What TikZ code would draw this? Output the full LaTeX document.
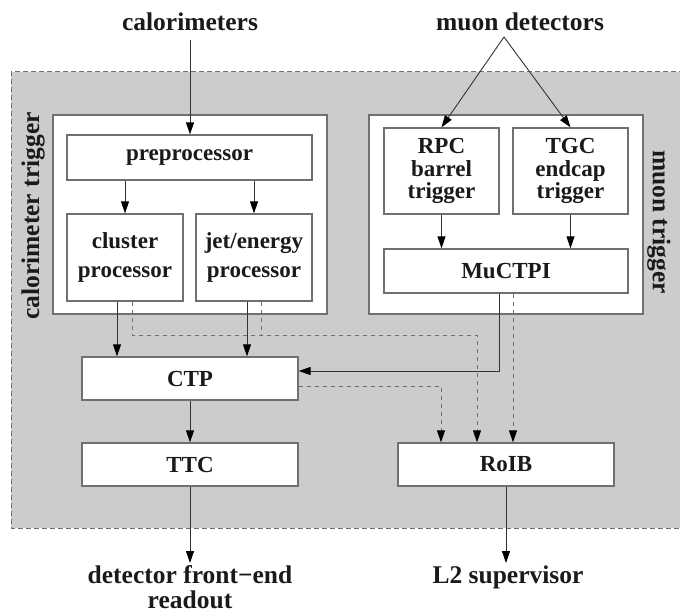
\documentclass[tikz,border=0pt]{standalone}
\usepackage{fontspec}
\setmainfont{Liberation Serif}
\usetikzlibrary{arrows.meta}
\definecolor{bgray}{HTML}{CCCCCC}
\definecolor{boxc}{HTML}{707070}
\definecolor{linec}{HTML}{333333}
\definecolor{dashc}{HTML}{707070}
\definecolor{txtc}{HTML}{1A1A1A}
\begin{document}
\begin{tikzpicture}[x=1pt,y=-1pt,
  box/.style={draw=boxc, line width=1.3pt, fill=white, inner sep=0pt, text=txtc,
    font=\fontsize{23}{23}\selectfont\bfseries, align=center},
  frame/.style={draw=boxc, line width=1.3pt, fill=white, inner sep=0pt},
  lab/.style={font=\fontsize{25.5}{26}\selectfont\bfseries, inner sep=0pt, align=center, text=txtc},
  arr/.style={draw=linec, line width=0.9pt, -{Triangle[length=12pt,width=8pt,color=black]}},
  darr/.style={arr, draw=dashc, line width=1pt, dash pattern=on 4.5pt off 3.5pt},
  dsh/.style={draw=dashc, line width=1pt, dash pattern=on 4.5pt off 3.5pt},
]
\useasboundingbox (0,0) rectangle (680,615);
\begin{scope}
\clip (0,0) rectangle (680,615);
\fill[bgray] (11,72) rectangle (700,528);
\draw[dashc, line width=1pt, dash pattern=on 5pt off 3pt] (700,72) -- (11,72) -- (11,528) -- (700,528);
\end{scope}

% outer frames
\node[frame, minimum width=274pt, minimum height=199pt] (calbox) at (190,214.5) {};
\node[frame, minimum width=274pt, minimum height=199pt] (mubox) at (506,214.5) {};

% labels
\node[lab] (calt) at (190,22) {calorimeters};
\node[lab] (mut) at (520,22) {muon detectors};
\node[lab, rotate=90] (calr) at (33,216) {calorimeter trigger};
\node[lab, rotate=-90] (mur) at (659,222) {muon trigger};
\node[lab, font=\fontsize{25.5}{25}\selectfont\bfseries] (fe) at (190,587) {detector front−end\\readout};
\node[lab] (l2) at (508,577) {L2 supervisor};

% boxes
\node[box, minimum width=245pt, minimum height=45pt] (pre) at (189.5,157.5) {preprocessor};
\node[box, minimum width=116pt, minimum height=87pt, font=\fontsize{23}{29}\selectfont\bfseries] (clu) at (125,257.5) {cluster\\processor};
\node[box, minimum width=116pt, minimum height=87pt, font=\fontsize{23}{29}\selectfont\bfseries] (jet) at (254,257.5) {jet/energy\\processor};
\node[box, minimum width=115pt, minimum height=86pt, font=\fontsize{23}{22.5}\selectfont\bfseries] (rpc) at (441.5,171) {RPC\\barrel\\trigger};
\node[box, minimum width=115pt, minimum height=86pt, font=\fontsize{23}{22.5}\selectfont\bfseries] (tgc) at (570.5,171) {TGC\\endcap\\trigger};
\node[box, minimum width=244pt, minimum height=44pt] (mu) at (506,271) {MuCTPI};
\node[box, minimum width=216pt, minimum height=43pt] (ctp) at (190,378.5) {CTP};
\node[box, minimum width=216pt, minimum height=43pt] (ttc) at (190,464.5) {TTC};
\node[box, minimum width=216pt, minimum height=43pt] (roib) at (506,464.5) {RoIB};

\coordinate (apex) at (504,37);
\coordinate (d1) at (477,335);
\coordinate (feend) at (190,563);
\coordinate (l2end) at (506,563);

% connectors
\draw[arr] ([yshift=-9pt]calt.south) -- (calt.south |- pre.north);
\draw[arr] (apex) -- (rpc.north);
\draw[arr] (apex) -- (tgc.north);
\draw[arr] (pre.south -| clu.north) -- (clu.north);
\draw[arr] (pre.south -| jet.north) -- (jet.north);
\draw[arr] (rpc.south) -- (rpc.south |- mu.north);
\draw[arr] (tgc.south) -- (tgc.south |- mu.north);

\draw[arr] ([xshift=-8pt]clu.south) -- ([xshift=-8pt]clu.south |- ctp.north);
\draw[arr] ([xshift=-7pt]jet.south) -- ([xshift=-7pt]jet.south |- ctp.north);
\draw[darr] ([xshift=7pt]clu.south) |- (d1) -- (d1 |- roib.north);
\draw[dsh] ([xshift=7pt]jet.south) -- ([xshift=7pt]jet.south |- d1);

\draw[arr] ([xshift=-7pt]mu.south) |- ([yshift=7.5pt]ctp.east);
\draw[darr] ([xshift=7pt]mu.south) -- ([xshift=7pt]mu.south |- roib.north);
\draw[darr] ([yshift=-7.5pt]ctp.east) -| ([xshift=-65pt]roib.north);

\draw[arr] (ctp.south) -- (ttc.north);
\draw[arr] (ttc.south) -- (feend);
\draw[arr] (roib.south) -- (l2end);
\end{tikzpicture}
\end{document}
